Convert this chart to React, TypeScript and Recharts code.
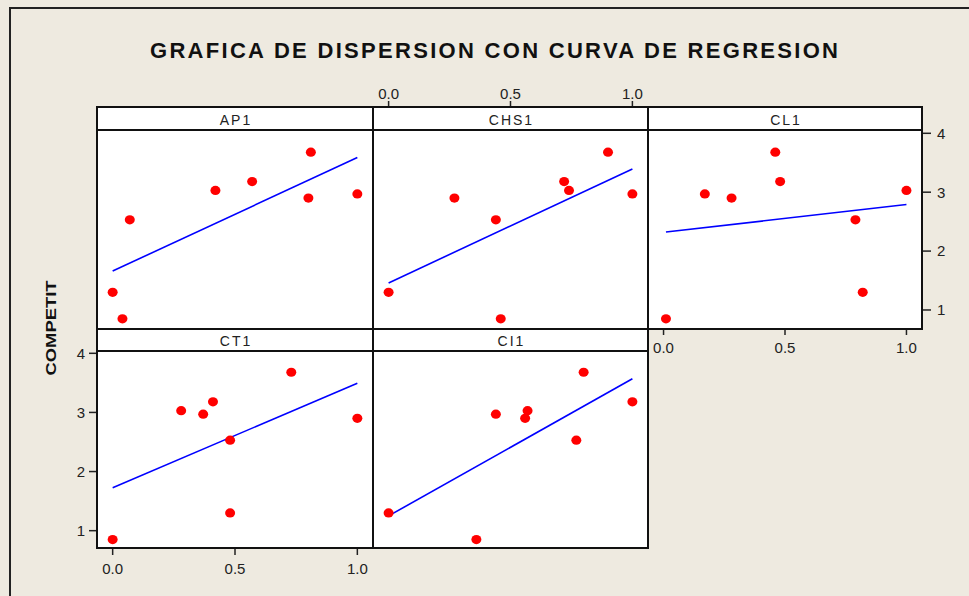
import React from 'react';
import { ScatterChart, Scatter, XAxis, YAxis, ReferenceLine } from 'recharts';

// COMPETIT values (one per observation)
const COMPETIT = [3.68, 3.18, 3.03, 2.97, 2.9, 2.53, 1.3, 0.85];
// predictor values, same observation order
const AP1 = [0.81, 0.57, 0.42, 1.0, 0.8, 0.07, 0.0, 0.04];
const CHS1 = [0.9, 0.72, 0.74, 1.0, 0.27, 0.44, 0.0, 0.46];
const CL1 = [0.46, 0.48, 1.0, 0.17, 0.28, 0.79, 0.82, 0.01];
const CT1 = [0.73, 0.41, 0.28, 0.37, 1.0, 0.48, 0.48, 0.0];
const CI1 = [0.8, 1.0, 0.57, 0.44, 0.56, 0.77, 0.0, 0.36];

const X_TICKS = [0, 0.5, 1];
const Y_TICKS = [1, 2, 3, 4];
const TITLE = 'GRAFICA DE DISPERSION CON CURVA DE REGRESION';
const Y_LABEL = 'COMPETIT';

const FONT = '"Liberation Sans", Arial, sans-serif';
const BG = '#EEEAE0';
const INK = '#111';
const TXT = '#222';

const X_DOMAIN: [number, number] = [-0.064, 1.064];
const Y_DOMAIN_TOP: [number, number] = [0.677, 4.056];
const Y_DOMAIN_BOT: [number, number] = [0.707, 4.039];

const tickStyle = { fontSize: 15, fill: TXT, fontFamily: FONT };

function fitLine(xs: number[], ys: number[]) {
  const n = xs.length;
  const mx = xs.reduce((s, v) => s + v, 0) / n;
  const my = ys.reduce((s, v) => s + v, 0) / n;
  let sxy = 0;
  let sxx = 0;
  for (let i = 0; i < n; i++) {
    sxy += (xs[i] - mx) * (ys[i] - my);
    sxx += (xs[i] - mx) * (xs[i] - mx);
  }
  const b = sxy / sxx;
  const a = my - b * mx;
  const x0 = Math.min(...xs);
  const x1 = Math.max(...xs);
  return [
    { x: x0, y: a + b * x0 },
    { x: x1, y: a + b * x1 },
  ];
}

const RedDot = (props: any) => {
  const { cx, cy } = props;
  if (cx == null || cy == null) return <g />;
  return <ellipse cx={cx} cy={cy} rx={5} ry={4.6} fill="#FF0000" />;
};

type PanelProps = {
  xs: number[];
  left: number;
  top: number;
  width: number;
  height: number;
  yDomain: [number, number];
  xAxis?: 'bottom';
  yAxis?: 'left' | 'right';
  xTickSize?: number;
  xTickMargin?: number;
  yTickSize?: number;
  yTickMargin?: number;
};

const AX = 40;
const PAD = 12;

function Panel(p: PanelProps) {
  const data = p.xs.map((x, i) => ({ x, y: COMPETIT[i] }));
  const seg = fitLine(p.xs, COMPETIT);
  const cw = p.width + (p.yAxis ? AX : 0);
  const ch = p.height + (p.xAxis ? AX : 0) + 2 * PAD;
  const cl = p.left - (p.yAxis === 'left' ? AX : 0);
  const ct = p.top - PAD;
  return (
    <div style={{ position: 'absolute', left: cl, top: ct, width: cw, height: ch }}>
      <ScatterChart width={cw} height={ch} margin={{ top: PAD, right: 0, bottom: PAD, left: 0 }}>
        <XAxis
          type="number"
          dataKey="x"
          domain={X_DOMAIN}
          ticks={X_TICKS}
          interval={0}
          allowDataOverflow
          tickFormatter={(v: number) => v.toFixed(1)}
          orientation="bottom"
          hide={!p.xAxis}
          height={AX}
          axisLine={false}
          tickLine={{ stroke: TXT, strokeWidth: 1.5 }}
          tickSize={p.xTickSize ?? 7}
          tickMargin={p.xTickMargin ?? 8}
          tick={tickStyle}
        />
        <YAxis
          type="number"
          dataKey="y"
          domain={p.yDomain}
          ticks={Y_TICKS}
          interval={0}
          allowDataOverflow
          orientation={p.yAxis || 'left'}
          hide={!p.yAxis}
          width={AX}
          axisLine={false}
          tickLine={{ stroke: TXT, strokeWidth: 1.5 }}
          tickSize={p.yTickSize ?? 8}
          tickMargin={p.yTickMargin ?? 4}
          tick={tickStyle}
        />
        <ReferenceLine segment={seg} stroke="#0000FF" strokeWidth={1.6} ifOverflow="visible" />
        <Scatter data={data} shape={RedDot} isAnimationActive={false} />
      </ScatterChart>
    </div>
  );
}

// top x-axis strip sitting above the header of a panel
function TopAxis({ left, top, width }: { left: number; top: number; width: number }) {
  const h = 23;
  return (
    <div style={{ position: 'absolute', left, top: top - AX, width, height: h + AX }}>
      <ScatterChart width={width} height={h + AX} margin={{ top: 0, right: 0, bottom: 0, left: 0 }}>
        <XAxis
          type="number"
          dataKey="x"
          domain={X_DOMAIN}
          ticks={X_TICKS}
          interval={0}
          allowDataOverflow
          tickFormatter={(v: number) => v.toFixed(1)}
          orientation="top"
          height={AX}
          axisLine={false}
          tickLine={{ stroke: TXT, strokeWidth: 1.5 }}
          tickSize={6}
          tickMargin={2}
          tick={tickStyle}
        />
        <YAxis type="number" dataKey="y" domain={Y_DOMAIN_TOP} hide />
      </ScatterChart>
    </div>
  );
}

export default function App() {
  const headerStyle = {
    fontSize: 14,
    fill: TXT,
    fontFamily: FONT,
    letterSpacing: 2,
  } as React.CSSProperties;
  return (
    <div
      style={{
        position: 'absolute',
        left: 0,
        top: 0,
        width: 969,
        height: 596,
        background: BG,
        overflow: 'hidden',
        fontFamily: FONT,
      }}
    >
      {/* white panel backgrounds */}
      <svg width={969} height={596} style={{ position: 'absolute', left: 0, top: 0 }}>
        <rect x={97} y={107} width={825} height={222} fill="#fff" />
        <rect x={97} y={329} width={551} height={219} fill="#fff" />
      </svg>

      <Panel xs={AP1} left={97} top={130} width={276} height={199} yDomain={Y_DOMAIN_TOP} />
      <Panel xs={CHS1} left={373} top={130} width={275} height={199} yDomain={Y_DOMAIN_TOP} />
      <TopAxis left={373} top={107} width={275} />
      <Panel
        xs={CL1}
        left={648}
        top={130}
        width={274}
        height={199}
        yDomain={Y_DOMAIN_TOP}
        xAxis="bottom"
        yAxis="right"
        xTickSize={6}
        xTickMargin={7}
        yTickSize={9}
        yTickMargin={6}
      />
      <Panel
        xs={CT1}
        left={97}
        top={351}
        width={276}
        height={197}
        yDomain={Y_DOMAIN_BOT}
        xAxis="bottom"
        yAxis="left"
        xTickSize={7}
        xTickMargin={8}
        yTickSize={8}
        yTickMargin={4}
      />
      <Panel xs={CI1} left={373} top={351} width={275} height={197} yDomain={Y_DOMAIN_BOT} />

      {/* frames, headers, titles */}
      <svg
        width={969}
        height={596}
        style={{ position: 'absolute', left: 0, top: 0, pointerEvents: 'none' }}
      >
        <line x1={9} y1={8} x2={969} y2={8} stroke="#222" strokeWidth={2} />
        <line x1={10} y1={7} x2={10} y2={596} stroke="#222" strokeWidth={2} />

        <text
          x={494}
          y={58}
          textAnchor="middle"
          fontSize={22}
          fontWeight="bold"
          fill="#111"
          fontFamily={FONT}
          textLength={688}
          lengthAdjust="spacing"
        >
          {TITLE}
        </text>

        <text
          transform="translate(55.5,328) rotate(-90)"
          textAnchor="middle"
          fontSize={15}
          fontWeight="bold"
          fill="#111"
          fontFamily={FONT}
          textLength={95}
          lengthAdjust="spacingAndGlyphs"
        >
          {Y_LABEL}
        </text>

        <rect x={97} y={107} width={825} height={222} fill="none" stroke={INK} strokeWidth={2} />
        <line x1={97} y1={130} x2={922} y2={130} stroke={INK} strokeWidth={2} />
        <line x1={373} y1={107} x2={373} y2={329} stroke={INK} strokeWidth={2} />
        <line x1={648} y1={107} x2={648} y2={329} stroke={INK} strokeWidth={2} />
        <rect x={97} y={329} width={551} height={219} fill="none" stroke={INK} strokeWidth={2} />
        <line x1={97} y1={351} x2={648} y2={351} stroke={INK} strokeWidth={2} />
        <line x1={373} y1={329} x2={373} y2={548} stroke={INK} strokeWidth={2} />

        <text x={236} y={124.5} textAnchor="middle" style={headerStyle}>AP1</text>
        <text x={511.5} y={124.5} textAnchor="middle" style={headerStyle}>CHS1</text>
        <text x={786} y={124.5} textAnchor="middle" style={headerStyle}>CL1</text>
        <text x={236} y={345.5} textAnchor="middle" style={headerStyle}>CT1</text>
        <text x={511.5} y={345.5} textAnchor="middle" style={headerStyle}>CI1</text>
      </svg>
    </div>
  );
}
